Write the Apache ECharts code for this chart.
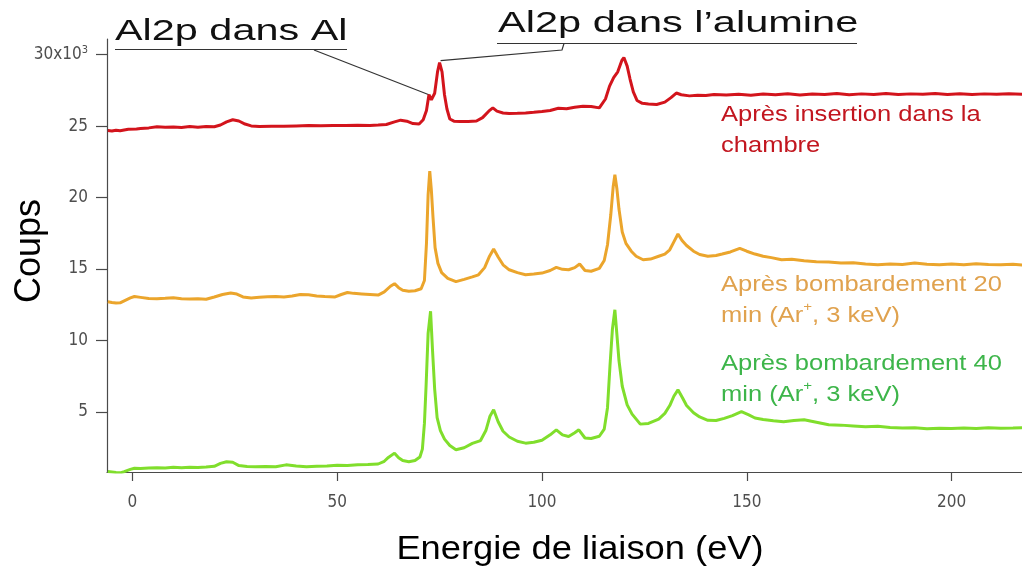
<!DOCTYPE html>
<html>
<head>
<meta charset="utf-8">
<script src="https://cdn.jsdelivr.net/npm/echarts@6/dist/echarts.min.js"></script>
<style>
  html, body { margin: 0; padding: 0; background: #ffffff; }
  #chart { width: 1022px; height: 572px; }
</style>
</head>
<body>
<div id="chart"></div>
<script>
// XPS survey spectra of an aluminium sample (counts in thousands vs binding energy, eV)

// Spectrum after insertion in the chamber
const energyInsertion = [-6, -5, -4, -3, -1, 1, 2, 4, 6, 8, 10, 12, 14, 16, 18, 20, 21.5, 23, 24.5, 26, 27.5, 29, 31, 34, 37, 40, 43, 46, 49, 52, 55, 58, 60, 62, 64, 65.5, 67, 68.5, 70, 71, 71.8, 72.4, 73, 73.8, 74.5, 75, 75.6, 76.2, 76.8, 77.5, 78.5, 80, 82, 84, 85.5, 87, 88, 89, 90.5, 92, 94, 96, 98, 100, 102, 104, 106, 108, 110, 112, 114, 115.5, 116.5, 117.5, 118.5, 119.5, 120, 120.8, 121.5, 122.3, 123.2, 124.5, 126, 128, 130, 131.5, 132.8, 134, 136, 138, 140, 142, 145, 148, 151, 154, 157, 160, 163, 166, 169, 172, 175, 178, 181, 184, 187, 190, 193, 196, 199, 202, 205, 208, 211, 214, 217.3];
const countsInsertion = [24.70, 24.66, 24.72, 24.68, 24.78, 24.80, 24.84, 24.88, 24.96, 24.93, 24.95, 24.90, 24.97, 24.93, 24.98, 24.96, 25.08, 25.30, 25.45, 25.36, 25.15, 25.02, 24.98, 24.99, 25.00, 25.02, 25.04, 25.03, 25.05, 25.04, 25.06, 25.05, 25.08, 25.12, 25.30, 25.42, 25.35, 25.18, 25.15, 25.45, 26.10, 27.20, 26.85, 27.30, 28.80, 29.45, 28.80, 27.20, 26.20, 25.50, 25.35, 25.33, 25.32, 25.36, 25.60, 26.05, 26.28, 26.05, 25.92, 25.88, 25.90, 25.93, 25.97, 26.03, 26.10, 26.25, 26.22, 26.32, 26.40, 26.38, 26.28, 26.90, 27.80, 28.40, 28.80, 29.60, 29.80, 29.20, 28.30, 27.40, 26.80, 26.60, 26.55, 26.52, 26.68, 27.00, 27.32, 27.20, 27.12, 27.16, 27.14, 27.22, 27.18, 27.24, 27.16, 27.25, 27.20, 27.27, 27.18, 27.25, 27.22, 27.28, 27.20, 27.26, 27.22, 27.29, 27.21, 27.26, 27.23, 27.28, 27.22, 27.27, 27.21, 27.26, 27.24, 27.27, 27.23];

// Spectrum after 20 min Ar+ sputtering
const energy20 = [-6, -5, -4, -3, -2, -0.5, 0.5, 2, 4, 6, 8, 10, 12, 14, 16, 18, 20, 22, 24, 25.5, 27, 29, 31, 33, 35, 37, 39, 41, 43, 45, 47, 49.5, 51, 52.5, 54, 56, 58, 60, 61.5, 63, 64, 65, 66, 67.5, 69, 70.5, 71.3, 71.8, 72.2, 72.6, 73.0, 73.4, 73.9, 74.6, 75.5, 77, 79, 81, 83, 84.5, 86, 87.2, 88.2, 89.3, 90.5, 92, 94, 96, 98, 100, 102, 103.5, 105, 106.5, 108, 109.2, 110.5, 112, 114, 115.2, 116, 116.8, 117.4, 117.8, 118.3, 118.8, 119.6, 120.5, 121.8, 123, 124.7, 126.5, 128.5, 130, 131.2, 132.2, 133.2, 134.2, 135.3, 137, 138.5, 140.5, 142.5, 144, 146, 148.3, 150, 152, 154, 156, 158.5, 161, 164, 167, 170, 173, 176, 179, 182, 185, 188, 191, 194, 197, 200, 203, 206, 209, 212, 215, 217.3];
const counts20 = [12.72, 12.66, 12.62, 12.64, 12.78, 12.98, 13.08, 13.02, 12.94, 12.92, 12.95, 12.99, 12.93, 12.90, 12.92, 12.89, 13.05, 13.22, 13.32, 13.25, 13.05, 12.98, 13.02, 13.06, 13.08, 13.04, 13.12, 13.22, 13.20, 13.12, 13.08, 13.05, 13.22, 13.36, 13.30, 13.26, 13.22, 13.18, 13.40, 13.80, 13.98, 13.70, 13.52, 13.45, 13.48, 13.62, 14.20, 16.80, 20.20, 21.85, 20.50, 18.60, 16.50, 15.40, 14.75, 14.35, 14.12, 14.28, 14.45, 14.60, 15.10, 15.90, 16.40, 15.85, 15.30, 14.95, 14.75, 14.60, 14.65, 14.72, 14.90, 15.12, 14.98, 14.95, 15.10, 15.36, 14.90, 14.85, 15.05, 15.60, 16.70, 18.80, 20.80, 21.60, 20.60, 19.20, 17.60, 16.80, 16.25, 15.90, 15.65, 15.70, 15.90, 16.05, 16.35, 16.90, 17.45, 17.00, 16.65, 16.25, 16.02, 15.90, 15.95, 16.05, 16.20, 16.45, 16.25, 16.05, 15.90, 15.80, 15.65, 15.68, 15.58, 15.52, 15.50, 15.42, 15.45, 15.35, 15.30, 15.36, 15.32, 15.42, 15.34, 15.30, 15.36, 15.30, 15.38, 15.32, 15.30, 15.33, 15.28];

// Spectrum after 40 min Ar+ sputtering
const energy40 = [-6, -5, -4, -3, -2, -0.5, 0.5, 2, 4, 6, 8, 10, 12, 14, 16, 18, 20, 21.5, 23, 24.5, 26, 28, 30, 32.5, 35, 37.5, 40, 42.5, 45, 47.5, 50, 52.5, 55, 57.5, 60, 61.5, 62.5, 64, 65, 66, 67.5, 69, 70.2, 70.8, 71.3, 71.7, 72.2, 72.8, 73.3, 73.8, 74.4, 75.2, 76.2, 77.5, 79, 81, 83, 85, 86.3, 87.3, 88.2, 89.3, 90.5, 92, 94, 96, 98, 100, 102, 103.5, 105, 106.5, 108, 109, 110.5, 112, 114, 115.2, 116, 116.6, 117.2, 117.8, 118.3, 118.8, 119.6, 120.8, 122, 124, 126, 128.5, 130, 131.2, 132.2, 133.2, 134.3, 135.3, 137, 138.5, 140.5, 142.5, 144.5, 146.5, 148.7, 150.5, 152, 154, 156.5, 159, 161.5, 164, 167, 170, 173, 176, 179, 182, 185, 188, 191, 194, 197, 200, 203, 206, 209, 212, 215, 217.3];
const counts40 = [0.84, 0.80, 0.76, 0.74, 0.82, 0.98, 1.06, 1.04, 1.08, 1.10, 1.08, 1.13, 1.10, 1.14, 1.12, 1.15, 1.20, 1.40, 1.52, 1.48, 1.25, 1.18, 1.16, 1.18, 1.17, 1.30, 1.22, 1.17, 1.20, 1.22, 1.28, 1.26, 1.30, 1.32, 1.36, 1.55, 1.82, 2.12, 1.80, 1.60, 1.52, 1.60, 1.85, 2.40, 4.20, 6.80, 10.50, 12.05, 9.20, 6.60, 4.60, 3.70, 3.10, 2.65, 2.36, 2.50, 2.80, 3.00, 3.70, 4.70, 5.15, 4.32, 3.65, 3.25, 2.95, 2.82, 2.88, 3.02, 3.40, 3.75, 3.40, 3.28, 3.55, 3.75, 3.18, 3.14, 3.30, 3.80, 5.30, 8.20, 10.80, 12.15, 10.40, 8.60, 6.80, 5.50, 4.85, 4.15, 4.20, 4.50, 4.90, 5.45, 6.10, 6.55, 6.00, 5.45, 4.95, 4.65, 4.42, 4.40, 4.55, 4.75, 5.02, 4.80, 4.58, 4.48, 4.38, 4.32, 4.40, 4.46, 4.28, 4.10, 4.08, 4.02, 3.96, 4.00, 3.92, 3.88, 3.90, 3.82, 3.86, 3.84, 3.88, 3.85, 3.90, 3.86, 3.88, 3.90];

const xTicks = [0, 50, 100, 150, 200];
const yTicks = [5, 10, 15, 20, 25, 30];

const seriesNames = ['Après insertion dans la chambre', 'Après bombardement 20 min', 'Après bombardement 40 min'];
const seriesColors = ['#d3141c', '#eba52c', '#80de2c'];
const labelColors = ['#c2161f', '#e0a24e', '#3db54a'];
const labelTexts = [
  'Après insertion dans la\nchambre',
  'Après bombardement 20\nmin (Ar{sup|+}, 3 keV)',
  'Après bombardement 40\nmin (Ar{sup|+}, 3 keV)'
];
// Peak annotations: [text, energy, counts] of the pointed peak
const peakNotes = [
  ['Al2p dans Al', 72.4, 27.2],
  ['Al2p dans l\u2019alumine', 75, 29.45]
];

const BASE_FONT = "'Liberation Sans', Arial, Helvetica, sans-serif";
const TICK_FONT = "'Liberation Sans Narrow', 'Arial Narrow', 'DejaVu Sans Condensed', 'Liberation Sans', Arial, sans-serif";

function pairs(xs, ys) { return xs.map((x, i) => [x, ys[i]]); }

const chart = echarts.init(document.getElementById('chart'), null, { renderer: 'canvas' });

const axisLineStyle = { color: '#4a4a4a', width: 1.2 };

chart.setOption({
  animation: false,
  backgroundColor: '#ffffff',
  grid: { left: 107, right: 0, top: 39, bottom: 100, containLabel: false },
  xAxis: {
    type: 'value',
    min: -6.2,
    max: 217.2,
    axisLine: { show: true, onZero: false, lineStyle: axisLineStyle },
    axisTick: { show: true, length: 9, lineStyle: axisLineStyle, customValues: xTicks },
    axisLabel: { color: '#4e4e4e', fontFamily: TICK_FONT, fontSize: 17, margin: 22, customValues: xTicks },
    splitLine: { show: false }
  },
  yAxis: {
    type: 'value',
    min: 0.8,
    max: 31.1,
    axisLine: { show: true, onZero: false, lineStyle: axisLineStyle },
    axisTick: { show: true, length: 11, lineStyle: axisLineStyle, customValues: yTicks },
    axisLabel: {
      color: '#4e4e4e', fontFamily: TICK_FONT, fontSize: 17, margin: 19,
      customValues: yTicks,
      formatter: v => v === 30 ? '{b|30x10}{s|3}' : String(v),
      rich: {
        b: { fontFamily: TICK_FONT, fontSize: 17, color: '#4e4e4e', lineHeight: 20 },
        s: { fontFamily: TICK_FONT, fontSize: 11, color: '#4e4e4e', lineHeight: 11, verticalAlign: 'top' }
      }
    },
    splitLine: { show: false }
  },
  series: [
    { name: seriesNames[0], data: pairs(energyInsertion, countsInsertion) },
    { name: seriesNames[1], data: pairs(energy20, counts20) },
    { name: seriesNames[2], data: pairs(energy40, counts40) }
  ].map((s, i) => Object.assign(s, {
    type: 'line',
    showSymbol: false,
    smooth: false,
    lineStyle: { color: seriesColors[i], width: 3 },
    itemStyle: { color: seriesColors[i] },
    z: 3 - i
  }))
});

// Text and leader lines, placed from the data positions of the peaks they point at
const p1 = chart.convertToPixel({ gridIndex: 0 }, [peakNotes[0][1], peakNotes[0][2]]);
const p2 = chart.convertToPixel({ gridIndex: 0 }, [peakNotes[1][1], peakNotes[1][2]]);

const labelTops = [130, 300.5, 379.5];
const thin = { stroke: '#333333', lineWidth: 1.2 };

chart.setOption({
  graphic: [
    // Axis titles
    {
      type: 'text', x: 30, y: 251, rotation: Math.PI / 2, silent: true,
      style: { text: 'Coups', font: '36px ' + BASE_FONT, fill: '#000000', align: 'center', verticalAlign: 'middle' }
    },
    {
      type: 'text', x: 580, y: 550, scaleX: 1.1, silent: true,
      style: { text: 'Energie de liaison (eV)', font: '33px ' + BASE_FONT, fill: '#000000', align: 'center', verticalAlign: 'middle' }
    },
    // Peak annotations
    {
      type: 'text', x: 115, y: 32, scaleX: 1.38, silent: true,
      style: { text: peakNotes[0][0], font: '30px ' + BASE_FONT, fill: '#111111', align: 'left', verticalAlign: 'middle' }
    },
    { type: 'line', silent: true, shape: { x1: 115, y1: 49.5, x2: 347, y2: 49.5 }, style: thin },
    { type: 'line', silent: true, shape: { x1: 314, y1: 50, x2: p1[0], y2: p1[1] }, style: thin },
    {
      type: 'text', x: 498, y: 24, scaleX: 1.385, silent: true,
      style: { text: peakNotes[1][0], font: '30px ' + BASE_FONT, fill: '#111111', align: 'left', verticalAlign: 'middle' }
    },
    { type: 'line', silent: true, shape: { x1: 497, y1: 43.5, x2: 857, y2: 43.5 }, style: thin },
    { type: 'polyline', silent: true, shape: { points: [[p2[0] + 1, p2[1] - 2], [562, 50], [564, 43.5]] }, style: Object.assign({ fill: null }, thin) },
    // Spectrum labels
    ...labelTexts.map((t, i) => ({
      type: 'text', x: 721, y: labelTops[i], scaleX: 1.16, silent: true,
      style: {
        text: t, font: '22px ' + BASE_FONT, fill: labelColors[i], lineHeight: 31,
        align: 'left', verticalAlign: 'middle',
        rich: { sup: { font: '13px ' + BASE_FONT, fill: labelColors[i], verticalAlign: 'top', lineHeight: 13 } }
      }
    }))
  ]
});
</script>
</body>
</html>
